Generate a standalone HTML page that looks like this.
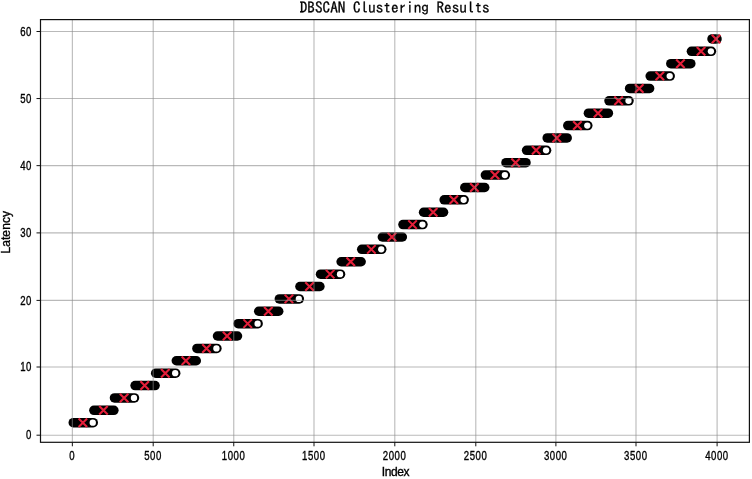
<!DOCTYPE html>
<html><head><meta charset="utf-8"><title>DBSCAN Clustering Results</title>
<style>html,body{margin:0;padding:0;background:#fff;width:752px;height:479px;overflow:hidden}svg{display:block;filter:blur(0.35px)}</style>
</head><body>
<svg width="752" height="479" viewBox="0 0 752 479">
<rect width="752" height="479" fill="#fff"/>
<g stroke="#000" stroke-width="9.5" stroke-linecap="round"><line x1="73.27" y1="422.65" x2="93.27" y2="422.65"/><line x1="93.88" y1="410.27" x2="113.88" y2="410.27"/><line x1="114.48" y1="397.90" x2="134.48" y2="397.90"/><line x1="135.08" y1="385.52" x2="155.08" y2="385.52"/><line x1="155.69" y1="373.14" x2="175.69" y2="373.14"/><line x1="176.30" y1="360.76" x2="196.30" y2="360.76"/><line x1="196.90" y1="348.39" x2="216.90" y2="348.39"/><line x1="217.50" y1="336.01" x2="237.50" y2="336.01"/><line x1="238.11" y1="323.63" x2="258.11" y2="323.63"/><line x1="258.71" y1="311.26" x2="278.71" y2="311.26"/><line x1="279.32" y1="298.88" x2="299.32" y2="298.88"/><line x1="299.93" y1="286.50" x2="319.93" y2="286.50"/><line x1="320.53" y1="274.13" x2="340.53" y2="274.13"/><line x1="341.13" y1="261.75" x2="361.13" y2="261.75"/><line x1="361.74" y1="249.37" x2="381.74" y2="249.37"/><line x1="382.34" y1="236.99" x2="402.34" y2="236.99"/><line x1="402.95" y1="224.62" x2="422.95" y2="224.62"/><line x1="423.56" y1="212.24" x2="443.56" y2="212.24"/><line x1="444.16" y1="199.86" x2="464.16" y2="199.86"/><line x1="464.76" y1="187.49" x2="484.76" y2="187.49"/><line x1="485.37" y1="175.11" x2="505.37" y2="175.11"/><line x1="505.98" y1="162.73" x2="525.98" y2="162.73"/><line x1="526.58" y1="150.36" x2="546.58" y2="150.36"/><line x1="547.19" y1="137.98" x2="567.19" y2="137.98"/><line x1="567.79" y1="125.60" x2="587.79" y2="125.60"/><line x1="588.39" y1="113.22" x2="608.39" y2="113.22"/><line x1="609.00" y1="100.85" x2="629.00" y2="100.85"/><line x1="629.61" y1="88.47" x2="649.61" y2="88.47"/><line x1="650.21" y1="76.09" x2="670.21" y2="76.09"/><line x1="670.81" y1="63.72" x2="690.81" y2="63.72"/><line x1="691.42" y1="51.34" x2="711.42" y2="51.34"/><line x1="712.02" y1="38.96" x2="717.02" y2="38.96"/></g>
<g fill="#fff"><circle cx="92.77" cy="422.65" r="3.15"/><circle cx="133.98" cy="397.90" r="3.15"/><circle cx="175.19" cy="373.14" r="3.15"/><circle cx="216.40" cy="348.39" r="3.15"/><circle cx="257.61" cy="323.63" r="3.15"/><circle cx="298.82" cy="298.88" r="3.15"/><circle cx="340.03" cy="274.13" r="3.15"/><circle cx="381.24" cy="249.37" r="3.15"/><circle cx="422.45" cy="224.62" r="3.15"/><circle cx="463.66" cy="199.86" r="3.15"/><circle cx="504.87" cy="175.11" r="3.15"/><circle cx="546.08" cy="150.36" r="3.15"/><circle cx="587.29" cy="125.60" r="3.15"/><circle cx="628.50" cy="100.85" r="3.15"/><circle cx="669.71" cy="76.09" r="3.15"/><circle cx="710.92" cy="51.34" r="3.15"/></g>
<g stroke="#e41f3a" stroke-width="2.1" fill="none"><path d="M78.62 418.40L87.12 426.90M78.62 426.90L87.12 418.40"/><path d="M99.22 406.02L107.72 414.52M99.22 414.52L107.72 406.02"/><path d="M119.83 393.65L128.33 402.15M119.83 402.15L128.33 393.65"/><path d="M140.43 381.27L148.93 389.77M140.43 389.77L148.93 381.27"/><path d="M161.04 368.89L169.54 377.39M161.04 377.39L169.54 368.89"/><path d="M181.65 356.51L190.15 365.01M181.65 365.01L190.15 356.51"/><path d="M202.25 344.14L210.75 352.64M202.25 352.64L210.75 344.14"/><path d="M222.85 331.76L231.35 340.26M222.85 340.26L231.35 331.76"/><path d="M243.46 319.38L251.96 327.88M243.46 327.88L251.96 319.38"/><path d="M264.06 307.01L272.56 315.51M264.06 315.51L272.56 307.01"/><path d="M284.67 294.63L293.17 303.13M284.67 303.13L293.17 294.63"/><path d="M305.28 282.25L313.78 290.75M305.28 290.75L313.78 282.25"/><path d="M325.88 269.88L334.38 278.38M325.88 278.38L334.38 269.88"/><path d="M346.49 257.50L354.99 266.00M346.49 266.00L354.99 257.50"/><path d="M367.09 245.12L375.59 253.62M367.09 253.62L375.59 245.12"/><path d="M387.69 232.74L396.19 241.24M387.69 241.24L396.19 232.74"/><path d="M408.30 220.37L416.80 228.87M408.30 228.87L416.80 220.37"/><path d="M428.91 207.99L437.41 216.49M428.91 216.49L437.41 207.99"/><path d="M449.51 195.61L458.01 204.11M449.51 204.11L458.01 195.61"/><path d="M470.12 183.24L478.62 191.74M470.12 191.74L478.62 183.24"/><path d="M490.72 170.86L499.22 179.36M490.72 179.36L499.22 170.86"/><path d="M511.33 158.48L519.83 166.98M511.33 166.98L519.83 158.48"/><path d="M531.93 146.11L540.43 154.61M531.93 154.61L540.43 146.11"/><path d="M552.54 133.73L561.04 142.23M552.54 142.23L561.04 133.73"/><path d="M573.14 121.35L581.64 129.85M573.14 129.85L581.64 121.35"/><path d="M593.75 108.97L602.25 117.47M593.75 117.47L602.25 108.97"/><path d="M614.35 96.60L622.85 105.10M614.35 105.10L622.85 96.60"/><path d="M634.96 84.22L643.46 92.72M634.96 92.72L643.46 84.22"/><path d="M655.56 71.84L664.06 80.34M655.56 80.34L664.06 71.84"/><path d="M676.16 59.47L684.66 67.97M676.16 67.97L684.66 59.47"/><path d="M696.77 47.09L705.27 55.59M696.77 55.59L705.27 47.09"/><path d="M711.77 34.71L720.27 43.21M711.77 43.21L720.27 34.71"/></g>
<g stroke="#8a8a8a" stroke-width="1.1" stroke-opacity="0.6"><line x1="72.35" y1="19.60" x2="72.35" y2="442.30"/><line x1="153.20" y1="19.60" x2="153.20" y2="442.30"/><line x1="233.75" y1="19.60" x2="233.75" y2="442.30"/><line x1="314.00" y1="19.60" x2="314.00" y2="442.30"/><line x1="394.80" y1="19.60" x2="394.80" y2="442.30"/><line x1="475.80" y1="19.60" x2="475.80" y2="442.30"/><line x1="555.90" y1="19.60" x2="555.90" y2="442.30"/><line x1="636.00" y1="19.60" x2="636.00" y2="442.30"/><line x1="717.10" y1="19.60" x2="717.10" y2="442.30"/><line x1="40.50" y1="435.20" x2="749.40" y2="435.20"/><line x1="40.50" y1="367.00" x2="749.40" y2="367.00"/><line x1="40.50" y1="300.40" x2="749.40" y2="300.40"/><line x1="40.50" y1="232.90" x2="749.40" y2="232.90"/><line x1="40.50" y1="165.65" x2="749.40" y2="165.65"/><line x1="40.50" y1="98.55" x2="749.40" y2="98.55"/><line x1="40.50" y1="31.50" x2="749.40" y2="31.50"/></g>
<rect x="40.5" y="19.6" width="708.90" height="422.70" fill="none" stroke="#111" stroke-width="1.2"/>
<g stroke="#111" stroke-width="1"><line x1="72.35" y1="442.30" x2="72.35" y2="446.30"/><line x1="153.20" y1="442.30" x2="153.20" y2="446.30"/><line x1="233.75" y1="442.30" x2="233.75" y2="446.30"/><line x1="314.00" y1="442.30" x2="314.00" y2="446.30"/><line x1="394.80" y1="442.30" x2="394.80" y2="446.30"/><line x1="475.80" y1="442.30" x2="475.80" y2="446.30"/><line x1="555.90" y1="442.30" x2="555.90" y2="446.30"/><line x1="636.00" y1="442.30" x2="636.00" y2="446.30"/><line x1="717.10" y1="442.30" x2="717.10" y2="446.30"/><line x1="36.50" y1="435.20" x2="40.50" y2="435.20"/><line x1="36.50" y1="367.00" x2="40.50" y2="367.00"/><line x1="36.50" y1="300.40" x2="40.50" y2="300.40"/><line x1="36.50" y1="232.90" x2="40.50" y2="232.90"/><line x1="36.50" y1="165.65" x2="40.50" y2="165.65"/><line x1="36.50" y1="98.55" x2="40.50" y2="98.55"/><line x1="36.50" y1="31.50" x2="40.50" y2="31.50"/></g>
<g style="font-family:'Liberation Sans',sans-serif;font-size:12.0px;letter-spacing:0.67px" fill="#000" stroke="#000" stroke-width="0.35"><text transform="translate(72.15 460.0) scale(0.8 1)" text-anchor="middle">0</text><text transform="translate(153.00 460.0) scale(0.8 1)" text-anchor="middle">500</text><text transform="translate(233.55 460.0) scale(0.8 1)" text-anchor="middle">1000</text><text transform="translate(313.80 460.0) scale(0.8 1)" text-anchor="middle">1500</text><text transform="translate(394.60 460.0) scale(0.8 1)" text-anchor="middle">2000</text><text transform="translate(475.60 460.0) scale(0.8 1)" text-anchor="middle">2500</text><text transform="translate(555.70 460.0) scale(0.8 1)" text-anchor="middle">3000</text><text transform="translate(635.80 460.0) scale(0.8 1)" text-anchor="middle">3500</text><text transform="translate(716.90 460.0) scale(0.8 1)" text-anchor="middle">4000</text><text transform="translate(31.9 439.30) scale(0.8 1)" text-anchor="end">0</text><text transform="translate(31.9 371.10) scale(0.8 1)" text-anchor="end">10</text><text transform="translate(31.9 304.50) scale(0.8 1)" text-anchor="end">20</text><text transform="translate(31.9 237.00) scale(0.8 1)" text-anchor="end">30</text><text transform="translate(31.9 169.75) scale(0.8 1)" text-anchor="end">40</text><text transform="translate(31.9 102.65) scale(0.8 1)" text-anchor="end">50</text><text transform="translate(31.9 35.60) scale(0.8 1)" text-anchor="end">60</text></g>
<text x="395.6" y="476.1" text-anchor="middle" textLength="27.6" lengthAdjust="spacing" style="font-family:'Liberation Sans',sans-serif;font-size:12.0px" fill="#000" stroke="#000" stroke-width="0.35">Index</text>
<text transform="translate(10.3 232.3) rotate(-90)" text-anchor="middle" textLength="42.6" lengthAdjust="spacing" style="font-family:'Liberation Sans',sans-serif;font-size:12.0px" fill="#000" stroke="#000" stroke-width="0.35">Latency</text>
<text x="394.7" y="12.8" text-anchor="middle" style="font-family:'IPAGothic','Liberation Mono',monospace;font-size:15.2px" fill="#000" stroke="#000" stroke-width="0.3">DBSCAN Clustering Results</text>
</svg>
</body></html>
